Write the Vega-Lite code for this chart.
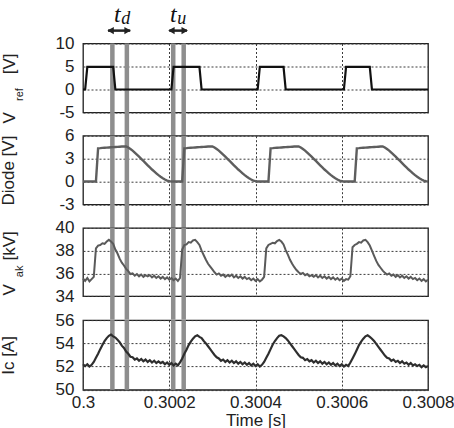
{
  "$schema": "https://vega.github.io/schema/vega-lite/v6.json",
  "background": "white",
  "padding": {"left": -2, "top": 2.5, "right": 0, "bottom": 0},
  "config": {
    "font": "Liberation Sans",
    "view": {"stroke": "#1e1e1e", "strokeWidth": 1.3},
    "axis": {
      "labelFontSize": 17, "labelColor": "#222", "labelFlush": false, "labelOverlap": false,
      "titleFontSize": 17, "titleFontWeight": "normal", "titleColor": "#222",
      "grid": true, "gridColor": "#3a3a3a", "gridDash": [2, 2], "gridWidth": 1, "gridOpacity": 1,
      "domain": false, "ticks": false, "tickSize": 0
    },
    "axisY": {"labelPadding": 9},
    "axisX": {"labelPadding": 5}
  },
  "datasets": {
    "wave": [
      {"t":0.3,"vref":0,"diode":0,"vak":35.55,"ic":52.2},
      {"t":0.300005,"vref":0,"diode":0,"vak":35.35,"ic":52.05},
      {"t":0.30001,"vref":4.9,"diode":0,"vak":35.6,"ic":52.2},
      {"t":0.300015,"vref":4.9,"diode":0,"vak":35.3,"ic":52.0},
      {"t":0.30002,"vref":4.9,"diode":0,"vak":35.5,"ic":52.15},
      {"t":0.300025,"vref":4.9,"diode":0,"vak":35.7,"ic":52.4},
      {"t":0.30003,"vref":4.9,"diode":0,"vak":38.2,"ic":52.75},
      {"t":0.300035,"vref":4.9,"diode":4.35,"vak":38.45,"ic":53.1},
      {"t":0.30004,"vref":4.9,"diode":4.37,"vak":38.5,"ic":53.5},
      {"t":0.300045,"vref":4.9,"diode":4.4,"vak":38.65,"ic":53.85},
      {"t":0.30005,"vref":4.9,"diode":4.42,"vak":38.6,"ic":54.2},
      {"t":0.300055,"vref":4.9,"diode":4.44,"vak":38.8,"ic":54.45},
      {"t":0.30006,"vref":4.9,"diode":4.46,"vak":38.95,"ic":54.65},
      {"t":0.300065,"vref":4.9,"diode":4.48,"vak":38.8,"ic":54.75},
      {"t":0.30007,"vref":4.9,"diode":4.5,"vak":38.6,"ic":54.6},
      {"t":0.300075,"vref":0,"diode":4.52,"vak":38.1,"ic":54.5},
      {"t":0.30008,"vref":0,"diode":4.54,"vak":37.75,"ic":54.3},
      {"t":0.300085,"vref":0,"diode":4.56,"vak":37.3,"ic":54.1},
      {"t":0.30009,"vref":0,"diode":4.58,"vak":36.95,"ic":53.8},
      {"t":0.300095,"vref":0,"diode":4.59,"vak":36.7,"ic":53.6},
      {"t":0.3001,"vref":0,"diode":4.6,"vak":36.4,"ic":53.3},
      {"t":0.300105,"vref":0,"diode":4.45,"vak":36.2,"ic":53.1},
      {"t":0.30011,"vref":0,"diode":4.25,"vak":35.95,"ic":52.85},
      {"t":0.300115,"vref":0,"diode":4.04,"vak":36.0,"ic":52.8},
      {"t":0.30012,"vref":0,"diode":3.78,"vak":35.8,"ic":52.6},
      {"t":0.300125,"vref":0,"diode":3.52,"vak":35.95,"ic":52.7},
      {"t":0.30013,"vref":0,"diode":3.26,"vak":35.75,"ic":52.5},
      {"t":0.300135,"vref":0,"diode":2.97,"vak":35.9,"ic":52.65},
      {"t":0.30014,"vref":0,"diode":2.69,"vak":35.7,"ic":52.45},
      {"t":0.300145,"vref":0,"diode":2.4,"vak":35.85,"ic":52.6},
      {"t":0.30015,"vref":0,"diode":2.12,"vak":35.75,"ic":52.4},
      {"t":0.300155,"vref":0,"diode":1.85,"vak":35.85,"ic":52.55},
      {"t":0.30016,"vref":0,"diode":1.57,"vak":35.65,"ic":52.35},
      {"t":0.300165,"vref":0,"diode":1.32,"vak":35.8,"ic":52.5},
      {"t":0.30017,"vref":0,"diode":1.07,"vak":35.6,"ic":52.3},
      {"t":0.300175,"vref":0,"diode":0.83,"vak":35.75,"ic":52.45},
      {"t":0.30018,"vref":0,"diode":0.62,"vak":35.55,"ic":52.3},
      {"t":0.300185,"vref":0,"diode":0.43,"vak":35.7,"ic":52.4},
      {"t":0.30019,"vref":0,"diode":0.26,"vak":35.5,"ic":52.2},
      {"t":0.300195,"vref":0,"diode":0.12,"vak":35.65,"ic":52.35},
      {"t":0.3002,"vref":0,"diode":0.04,"vak":35.45,"ic":52.15},
      {"t":0.300205,"vref":0,"diode":0,"vak":35.6,"ic":52.3},
      {"t":0.30021,"vref":4.9,"diode":0,"vak":35.4,"ic":52.1},
      {"t":0.300215,"vref":4.9,"diode":0,"vak":35.55,"ic":52.25},
      {"t":0.30022,"vref":4.9,"diode":0,"vak":35.35,"ic":52.1},
      {"t":0.300225,"vref":4.9,"diode":0,"vak":35.6,"ic":52.35},
      {"t":0.30023,"vref":4.9,"diode":0,"vak":38.1,"ic":52.7},
      {"t":0.300235,"vref":4.9,"diode":4.35,"vak":38.5,"ic":53.1},
      {"t":0.30024,"vref":4.9,"diode":4.37,"vak":38.55,"ic":53.45},
      {"t":0.300245,"vref":4.9,"diode":4.4,"vak":38.75,"ic":53.85},
      {"t":0.30025,"vref":4.9,"diode":4.42,"vak":38.7,"ic":54.15},
      {"t":0.300255,"vref":4.9,"diode":4.44,"vak":38.9,"ic":54.4},
      {"t":0.30026,"vref":4.9,"diode":4.46,"vak":38.95,"ic":54.6},
      {"t":0.300265,"vref":4.9,"diode":4.48,"vak":38.75,"ic":54.7},
      {"t":0.30027,"vref":4.9,"diode":4.5,"vak":38.5,"ic":54.55},
      {"t":0.300275,"vref":0,"diode":4.52,"vak":38.0,"ic":54.45},
      {"t":0.30028,"vref":0,"diode":4.54,"vak":37.6,"ic":54.2},
      {"t":0.300285,"vref":0,"diode":4.56,"vak":37.2,"ic":54.0},
      {"t":0.30029,"vref":0,"diode":4.58,"vak":36.85,"ic":53.75},
      {"t":0.300295,"vref":0,"diode":4.59,"vak":36.6,"ic":53.5},
      {"t":0.3003,"vref":0,"diode":4.6,"vak":36.35,"ic":53.25},
      {"t":0.300305,"vref":0,"diode":4.45,"vak":36.1,"ic":53.0},
      {"t":0.30031,"vref":0,"diode":4.25,"vak":35.9,"ic":52.8},
      {"t":0.300315,"vref":0,"diode":4.04,"vak":36.0,"ic":52.7},
      {"t":0.30032,"vref":0,"diode":3.78,"vak":35.8,"ic":52.5},
      {"t":0.300325,"vref":0,"diode":3.52,"vak":35.9,"ic":52.6},
      {"t":0.30033,"vref":0,"diode":3.26,"vak":35.7,"ic":52.4},
      {"t":0.300335,"vref":0,"diode":2.97,"vak":35.85,"ic":52.55},
      {"t":0.30034,"vref":0,"diode":2.69,"vak":35.75,"ic":52.35},
      {"t":0.300345,"vref":0,"diode":2.4,"vak":35.9,"ic":52.5},
      {"t":0.30035,"vref":0,"diode":2.12,"vak":35.65,"ic":52.3},
      {"t":0.300355,"vref":0,"diode":1.85,"vak":35.8,"ic":52.45},
      {"t":0.30036,"vref":0,"diode":1.57,"vak":35.6,"ic":52.25},
      {"t":0.300365,"vref":0,"diode":1.32,"vak":35.75,"ic":52.4},
      {"t":0.30037,"vref":0,"diode":1.07,"vak":35.55,"ic":52.2},
      {"t":0.300375,"vref":0,"diode":0.83,"vak":35.7,"ic":52.35},
      {"t":0.30038,"vref":0,"diode":0.62,"vak":35.5,"ic":52.15},
      {"t":0.300385,"vref":0,"diode":0.43,"vak":35.6,"ic":52.3},
      {"t":0.30039,"vref":0,"diode":0.26,"vak":35.4,"ic":52.1},
      {"t":0.300395,"vref":0,"diode":0.12,"vak":35.55,"ic":52.25},
      {"t":0.3004,"vref":0,"diode":0.04,"vak":35.35,"ic":52.05},
      {"t":0.300405,"vref":0,"diode":0,"vak":35.5,"ic":52.2},
      {"t":0.30041,"vref":4.9,"diode":0,"vak":35.3,"ic":52.0},
      {"t":0.300415,"vref":4.9,"diode":0,"vak":35.45,"ic":52.15},
      {"t":0.30042,"vref":4.9,"diode":0,"vak":35.7,"ic":52.4},
      {"t":0.300425,"vref":4.9,"diode":0,"vak":38.2,"ic":52.75},
      {"t":0.30043,"vref":4.9,"diode":0,"vak":38.5,"ic":53.1},
      {"t":0.300435,"vref":4.9,"diode":4.35,"vak":38.6,"ic":53.5},
      {"t":0.30044,"vref":4.9,"diode":4.37,"vak":38.7,"ic":53.9},
      {"t":0.300445,"vref":4.9,"diode":4.4,"vak":38.65,"ic":54.2},
      {"t":0.30045,"vref":4.9,"diode":4.42,"vak":38.85,"ic":54.45},
      {"t":0.300455,"vref":4.9,"diode":4.44,"vak":38.95,"ic":54.65},
      {"t":0.30046,"vref":4.9,"diode":4.46,"vak":38.8,"ic":54.7},
      {"t":0.300465,"vref":4.9,"diode":4.48,"vak":38.55,"ic":54.6},
      {"t":0.30047,"vref":0,"diode":4.5,"vak":38.05,"ic":54.45},
      {"t":0.300475,"vref":0,"diode":4.52,"vak":37.65,"ic":54.25},
      {"t":0.30048,"vref":0,"diode":4.54,"vak":37.2,"ic":54.0},
      {"t":0.300485,"vref":0,"diode":4.56,"vak":36.85,"ic":53.75},
      {"t":0.30049,"vref":0,"diode":4.58,"vak":36.55,"ic":53.5},
      {"t":0.300495,"vref":0,"diode":4.59,"vak":36.3,"ic":53.25},
      {"t":0.3005,"vref":0,"diode":4.6,"vak":36.1,"ic":53.0},
      {"t":0.300505,"vref":0,"diode":4.45,"vak":35.95,"ic":52.8},
      {"t":0.30051,"vref":0,"diode":4.25,"vak":36.05,"ic":52.75},
      {"t":0.300515,"vref":0,"diode":4.04,"vak":35.85,"ic":52.55},
      {"t":0.30052,"vref":0,"diode":3.78,"vak":35.95,"ic":52.65},
      {"t":0.300525,"vref":0,"diode":3.52,"vak":35.75,"ic":52.45},
      {"t":0.30053,"vref":0,"diode":3.26,"vak":35.85,"ic":52.55},
      {"t":0.300535,"vref":0,"diode":2.97,"vak":35.7,"ic":52.35},
      {"t":0.30054,"vref":0,"diode":2.69,"vak":35.85,"ic":52.5},
      {"t":0.300545,"vref":0,"diode":2.4,"vak":35.65,"ic":52.3},
      {"t":0.30055,"vref":0,"diode":2.12,"vak":35.8,"ic":52.45},
      {"t":0.300555,"vref":0,"diode":1.85,"vak":35.6,"ic":52.25},
      {"t":0.30056,"vref":0,"diode":1.57,"vak":35.75,"ic":52.4},
      {"t":0.300565,"vref":0,"diode":1.32,"vak":35.55,"ic":52.2},
      {"t":0.30057,"vref":0,"diode":1.07,"vak":35.7,"ic":52.35},
      {"t":0.300575,"vref":0,"diode":0.83,"vak":35.5,"ic":52.15},
      {"t":0.30058,"vref":0,"diode":0.62,"vak":35.65,"ic":52.3},
      {"t":0.300585,"vref":0,"diode":0.43,"vak":35.45,"ic":52.1},
      {"t":0.30059,"vref":0,"diode":0.26,"vak":35.6,"ic":52.25},
      {"t":0.300595,"vref":0,"diode":0.12,"vak":35.4,"ic":52.05},
      {"t":0.3006,"vref":0,"diode":0.04,"vak":35.55,"ic":52.2},
      {"t":0.300605,"vref":0,"diode":0,"vak":35.35,"ic":52.0},
      {"t":0.30061,"vref":4.9,"diode":0,"vak":35.5,"ic":52.15},
      {"t":0.300615,"vref":4.9,"diode":0,"vak":35.45,"ic":52.05},
      {"t":0.30062,"vref":4.9,"diode":0,"vak":35.75,"ic":52.35},
      {"t":0.300625,"vref":4.9,"diode":0,"vak":38.3,"ic":52.7},
      {"t":0.30063,"vref":4.9,"diode":0,"vak":38.5,"ic":53.05},
      {"t":0.300635,"vref":4.9,"diode":4.35,"vak":38.6,"ic":53.45},
      {"t":0.30064,"vref":4.9,"diode":4.37,"vak":38.75,"ic":53.85},
      {"t":0.300645,"vref":4.9,"diode":4.4,"vak":38.7,"ic":54.15},
      {"t":0.30065,"vref":4.9,"diode":4.42,"vak":38.9,"ic":54.4},
      {"t":0.300655,"vref":4.9,"diode":4.44,"vak":38.95,"ic":54.6},
      {"t":0.30066,"vref":4.9,"diode":4.46,"vak":38.75,"ic":54.7},
      {"t":0.300665,"vref":4.9,"diode":4.48,"vak":38.45,"ic":54.55},
      {"t":0.30067,"vref":0,"diode":4.5,"vak":38.0,"ic":54.4},
      {"t":0.300675,"vref":0,"diode":4.52,"vak":37.55,"ic":54.2},
      {"t":0.30068,"vref":0,"diode":4.54,"vak":37.1,"ic":53.95},
      {"t":0.300685,"vref":0,"diode":4.56,"vak":36.75,"ic":53.7},
      {"t":0.30069,"vref":0,"diode":4.58,"vak":36.5,"ic":53.45},
      {"t":0.300695,"vref":0,"diode":4.6,"vak":36.25,"ic":53.2},
      {"t":0.3007,"vref":0,"diode":4.45,"vak":36.05,"ic":52.95},
      {"t":0.300705,"vref":0,"diode":4.25,"vak":35.9,"ic":52.75},
      {"t":0.30071,"vref":0,"diode":4.04,"vak":36.0,"ic":52.7},
      {"t":0.300715,"vref":0,"diode":3.78,"vak":35.8,"ic":52.5},
      {"t":0.30072,"vref":0,"diode":3.52,"vak":35.9,"ic":52.6},
      {"t":0.300725,"vref":0,"diode":3.26,"vak":35.7,"ic":52.4},
      {"t":0.30073,"vref":0,"diode":2.97,"vak":35.85,"ic":52.5},
      {"t":0.300735,"vref":0,"diode":2.69,"vak":35.65,"ic":52.3},
      {"t":0.30074,"vref":0,"diode":2.4,"vak":35.8,"ic":52.45},
      {"t":0.300745,"vref":0,"diode":2.12,"vak":35.6,"ic":52.25},
      {"t":0.30075,"vref":0,"diode":1.85,"vak":35.75,"ic":52.35},
      {"t":0.300755,"vref":0,"diode":1.57,"vak":35.55,"ic":52.15},
      {"t":0.30076,"vref":0,"diode":1.32,"vak":35.7,"ic":52.3},
      {"t":0.300765,"vref":0,"diode":1.07,"vak":35.5,"ic":52.1},
      {"t":0.30077,"vref":0,"diode":0.83,"vak":35.6,"ic":52.2},
      {"t":0.300775,"vref":0,"diode":0.62,"vak":35.4,"ic":52.05},
      {"t":0.30078,"vref":0,"diode":0.43,"vak":35.55,"ic":52.15},
      {"t":0.300785,"vref":0,"diode":0.26,"vak":35.35,"ic":51.95},
      {"t":0.30079,"vref":0,"diode":0.12,"vak":35.5,"ic":52.1},
      {"t":0.300795,"vref":0,"diode":0.04,"vak":35.3,"ic":51.95},
      {"t":0.3008,"vref":0,"diode":0.01,"vak":35.45,"ic":52.05}
    ],
    "cursors": [{"t":0.3000681},{"t":0.3001017},{"t":0.3002092},{"t":0.3002335}],
    "spans": [{"t":0.300058,"t2":0.3001095},{"t":0.3002,"t2":0.300241}],
    "heads": [
      {"t":0.300064,"side":"left"},{"t":0.3001034,"side":"right"},
      {"t":0.300205,"side":"left"},{"t":0.3002359,"side":"right"}
    ],
    "symbols": [
      {"t":0.3000798,"sym":"t","role":"main"},{"t":0.3000994,"sym":"d","role":"sub"},
      {"t":0.3002092,"sym":"t","role":"main"},{"t":0.3002289,"sym":"u","role":"sub"}
    ]
  },
  "bounds": "flush",
  "spacing": 23.2,
  "vconcat": [
    {
      "width": 345, "height": 69,
      "encoding": {"x": {"field": "t", "type": "quantitative", "scale": {"domain": [0.3, 0.3008], "nice": false, "zero": false}, "axis": {"values": [0.3002, 0.3004, 0.3006], "labels": false, "title": null}}},
      "layer": [
        {"data": {"name": "cursors"}, "mark": {"type": "rule", "color": "#8e8e8e", "strokeWidth": 4.5, "clip": false},
         "encoding": {
           "y": {"datum": 10, "type": "quantitative", "scale": {"domain": [-5, 10], "nice": false, "zero": false},
                 "axis": {"orient": "left", "title": "ref", "titleFontSize": 11, "titleX": -61, "titleY": 50.5, "titleBaseline": "alphabetic", "labels": false, "grid": false}},
           "y2": {"datum": -10.05}}},
        {"data": {"name": "wave"}, "mark": {"type": "line", "color": "#111", "strokeWidth": 2.2},
         "encoding": {"y": {"field": "vref", "type": "quantitative", "scale": {"domain": [-5, 10], "nice": false, "zero": false},
           "axis": {"orient": "left", "grid": true, "values": [-5, 0, 5, 10], "labelExpr": "'' + datum.value", "title": "V\u00a0\u00a0\u00a0\u00a0\u00a0\u00a0\u00a0\u00a0[V]", "titleX": -69, "titleY": 44.5, "titleBaseline": "alphabetic"}}}},
        {"data": {"name": "spans"}, "mark": {"type": "rule", "color": "#222", "strokeWidth": 2.5, "clip": false},
         "encoding": {"x2": {"field": "t2"}, "y": {"datum": 12.8, "type": "quantitative", "scale": {"domain": [-5, 10], "nice": false, "zero": false}, "axis": null}}},
        {"data": {"name": "heads"}, "mark": {"type": "point", "filled": true, "size": 55, "color": "#222", "opacity": 1, "clip": false},
         "encoding": {
           "shape": {"field": "side", "type": "nominal", "scale": {"domain": ["left", "right"], "range": ["triangle-left", "triangle-right"]}, "legend": null},
           "y": {"datum": 12.8, "type": "quantitative", "scale": {"domain": [-5, 10], "nice": false, "zero": false}, "axis": null}}},
        {"data": {"name": "symbols"}, "transform": [{"filter": "datum.role == 'main'"}],
         "mark": {"type": "text", "font": "Liberation Serif", "fontStyle": "italic", "fontSize": 24, "color": "#111", "baseline": "alphabetic", "align": "center", "clip": false},
         "encoding": {"text": {"field": "sym"}, "y": {"datum": 14.6, "type": "quantitative", "scale": {"domain": [-5, 10], "nice": false, "zero": false}, "axis": null}}},
        {"data": {"name": "symbols"}, "transform": [{"filter": "datum.role == 'sub'"}],
         "mark": {"type": "text", "font": "Liberation Serif", "fontStyle": "italic", "fontSize": 18, "color": "#111", "baseline": "alphabetic", "align": "center", "clip": false},
         "encoding": {"text": {"field": "sym"}, "y": {"datum": 14.2, "type": "quantitative", "scale": {"domain": [-5, 10], "nice": false, "zero": false}, "axis": null}}}
      ],
      "resolve": {"axis": {"y": "independent"}}
    },
    {
      "width": 345, "height": 68.7,
      "encoding": {"x": {"field": "t", "type": "quantitative", "scale": {"domain": [0.3, 0.3008], "nice": false, "zero": false}, "axis": {"values": [0.3002, 0.3004, 0.3006], "labels": false, "title": null}}},
      "layer": [
        {"data": {"name": "cursors"}, "mark": {"type": "rule", "color": "#8e8e8e", "strokeWidth": 4.5, "clip": false},
         "encoding": {
           "y": {"datum": 6, "type": "quantitative", "scale": {"domain": [-3, 6], "nice": false, "zero": false}, "axis": null},
           "y2": {"datum": -6.04}}},
        {"data": {"name": "wave"}, "mark": {"type": "line", "color": "#5e5e5e", "strokeWidth": 2.4},
         "encoding": {"y": {"field": "diode", "type": "quantitative", "scale": {"domain": [-3, 6], "nice": false, "zero": false},
           "axis": {"orient": "left", "grid": true, "values": [-3, 0, 3, 6], "labelExpr": "'' + datum.value", "title": "Diode [V]", "titleX": -70, "titleBaseline": "alphabetic"}}}}
      ],
      "resolve": {"axis": {"y": "independent"}}
    },
    {
      "width": 345, "height": 68.3,
      "encoding": {"x": {"field": "t", "type": "quantitative", "scale": {"domain": [0.3, 0.3008], "nice": false, "zero": false}, "axis": {"values": [0.3002, 0.3004, 0.3006], "labels": false, "title": null}}},
      "layer": [
        {"data": {"name": "cursors"}, "mark": {"type": "rule", "color": "#8e8e8e", "strokeWidth": 4.5, "clip": false},
         "encoding": {
           "y": {"datum": 40, "type": "quantitative", "scale": {"domain": [34, 40], "nice": false, "zero": false},
                 "axis": {"orient": "left", "title": "ak", "titleFontSize": 11, "titleX": -60.5, "titleY": 43, "titleBaseline": "alphabetic", "labels": false, "grid": false}},
           "y2": {"datum": 31.96}}},
        {"data": {"name": "wave"}, "mark": {"type": "line", "color": "#5a5a5a", "strokeWidth": 2},
         "encoding": {"y": {"field": "vak", "type": "quantitative", "scale": {"domain": [34, 40], "nice": false, "zero": false},
           "axis": {"orient": "left", "grid": true, "values": [34, 36, 38, 40], "labelExpr": "'' + datum.value", "title": "V\u00a0\u00a0\u00a0\u00a0\u00a0[kV]", "titleX": -69, "titleY": 35, "titleBaseline": "alphabetic"}}}}
      ],
      "resolve": {"axis": {"y": "independent"}}
    },
    {
      "width": 345, "height": 69.7,
      "encoding": {"x": {"field": "t", "type": "quantitative", "scale": {"domain": [0.3, 0.3008], "nice": false, "zero": false},
        "axis": {"values": [0.3, 0.3002, 0.3004, 0.3006, 0.3008], "labelExpr": "'' + datum.value", "title": "Time [s]", "titlePadding": 2}}},
      "layer": [
        {"data": {"name": "cursors"}, "mark": {"type": "rule", "color": "#8e8e8e", "strokeWidth": 4.5, "clip": false},
         "encoding": {
           "y": {"datum": 56, "type": "quantitative", "scale": {"domain": [50, 56], "nice": false, "zero": false}, "axis": null},
           "y2": {"datum": 50}}},
        {"data": {"name": "wave"}, "mark": {"type": "line", "color": "#2e2e2e", "strokeWidth": 2.2},
         "encoding": {"y": {"field": "ic", "type": "quantitative", "scale": {"domain": [50, 56], "nice": false, "zero": false},
           "axis": {"orient": "left", "grid": true, "values": [50, 52, 54, 56], "labelExpr": "'' + datum.value", "title": "Ic [A]", "titleX": -70, "titleBaseline": "alphabetic"}}}}
      ],
      "resolve": {"axis": {"y": "independent"}}
    }
  ]
}
